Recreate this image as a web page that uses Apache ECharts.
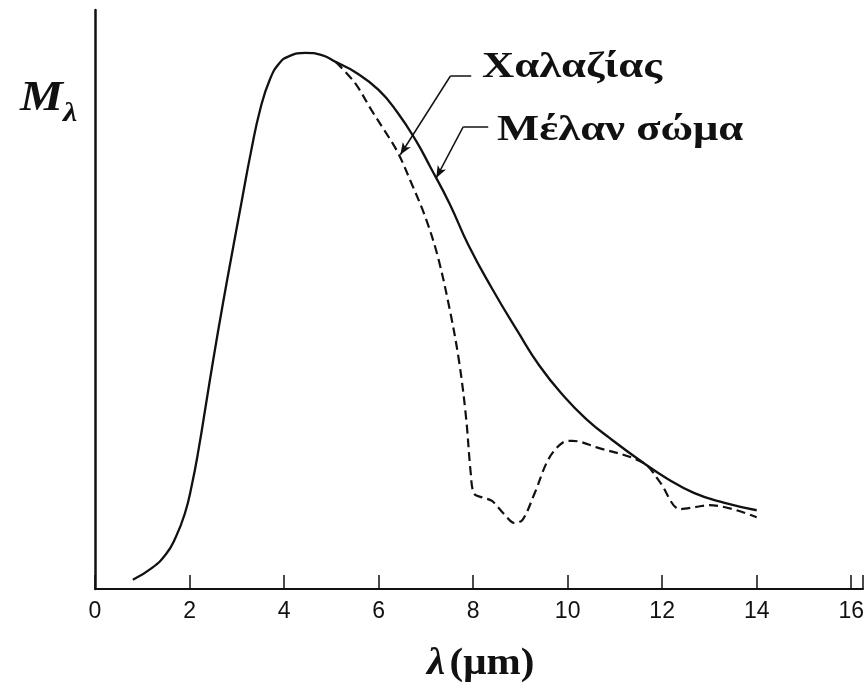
<!DOCTYPE html>
<html>
<head>
<meta charset="utf-8">
<script src="https://cdn.jsdelivr.net/npm/echarts@6/dist/echarts.min.js"></script>
<style>
  html, body { margin: 0; padding: 0; background: #fff; }
  #main { width: 867px; height: 687px; }
</style>
</head>
<body>
<div id="main"></div>
<script>
// wavelength (um) / relative radiant exitance
var blackLambda = [0.8, 1.2, 1.5, 1.7, 1.9, 2.05, 2.2, 2.35, 2.5, 2.7, 2.9, 3.1, 3.3, 3.5, 3.7, 3.9, 4.1, 4.45, 4.8, 5.1, 5.5, 6.0, 6.4, 6.8, 7.1, 7.5, 7.9, 8.4, 8.95, 9.4, 9.93, 10.4, 10.9, 11.6, 12.1, 12.67, 13.3, 14.0];
var blackValue  = [1.6, 3.6, 6.0, 8.8, 13.0, 18.0, 24.5, 32.0, 39.5, 49.0, 58.0, 66.8, 75.5, 83.0, 88.0, 90.8, 92.0, 92.6, 92.2, 91.0, 89.3, 86.2, 82.3, 77.3, 72.8, 66.6, 59.4, 51.9, 44.4, 38.6, 33.2, 29.3, 26.0, 21.8, 19.1, 16.6, 14.9, 13.6];

var quartzLambda = [5.1, 5.5, 5.85, 6.1, 6.4, 6.7, 7.0, 7.25, 7.5, 7.7, 7.85, 7.95, 8.02, 8.2, 8.4, 8.65, 8.88, 9.05, 9.3, 9.6, 9.9, 10.1, 10.6, 11.6, 11.95, 12.38, 12.74, 13.0, 14.0];
var quartzValue  = [91.0, 87.4, 82.7, 79.5, 75.5, 70.0, 64.0, 57.5, 48.5, 39.5, 29.7, 20.0, 16.5, 15.8, 15.2, 13.0, 11.4, 12.0, 16.5, 22.5, 25.3, 25.6, 24.5, 21.8, 18.5, 13.8, 14.2, 14.5, 12.4];

var xTicks = [0, 2, 4, 6, 8, 10, 12, 14, 16];

function pairs(xs, ys) {
  return xs.map(function (x, i) { return [x, ys[i]]; });
}

var chart = echarts.init(document.getElementById('main'));

var serif = '"Liberation Serif", "DejaVu Serif", serif';

chart.setOption({
  animation: false,
  grid: { left: 95, right: 0, top: 10, bottom: 98 },
  xAxis: {
    type: 'value',
    min: 0,
    max: 16.25,
    interval: 2,
    axisLine: { lineStyle: { color: '#111', width: 2 } },
    axisTick: { inside: true, length: 14, lineStyle: { color: '#111', width: 1.5 } },
    axisLabel: {
      color: '#111',
      fontSize: 23,
      fontFamily: '"Liberation Sans", Arial, sans-serif',
      margin: 11,
      formatter: function (v) { return xTicks.indexOf(v) >= 0 ? String(v) : ''; }
    },
    splitLine: { show: false }
  },
  yAxis: {
    type: 'value',
    min: 0,
    max: 100,
    axisLine: { show: true, lineStyle: { color: '#111', width: 2.5 } },
    axisTick: { show: false },
    axisLabel: { show: false },
    splitLine: { show: false }
  },
  series: [
    {
      name: 'Μέλαν σώμα',
      type: 'line',
      data: pairs(blackLambda, blackValue),
      smooth: 0.5,
      symbol: 'none',
      lineStyle: { color: '#111', width: 2.3 },
      markLine: {
        silent: true,
        symbol: ['none', 'none'],
        label: { show: false },
        lineStyle: { color: '#111', width: 1.5, type: 'solid' },
        data: [
          [{ coord: [8.32, 79.8] }, { coord: [7.79, 79.8] }],
          [{ coord: [7.79, 79.8] }, { coord: [7.22, 71.0], symbol: 'arrow', symbolSize: [7, 12] }]
        ]
      }
    },
    {
      name: 'Χαλαζίας',
      type: 'line',
      data: pairs(quartzLambda, quartzValue),
      smooth: 0.35,
      symbol: 'none',
      lineStyle: { color: '#111', width: 2.2, type: [9, 5] },
      markLine: {
        silent: true,
        symbol: ['none', 'none'],
        label: { show: false },
        lineStyle: { color: '#111', width: 1.5, type: 'solid' },
        data: [
          [{ coord: [7.96, 88.6] }, { coord: [7.52, 88.6] }],
          [{ coord: [7.52, 88.6] }, { coord: [6.46, 75.0], symbol: 'arrow', symbolSize: [7, 12] }]
        ]
      }
    }
  ],
  graphic: [
    {
      type: 'text', x: 482, y: 50, scaleX: 1.24,
      style: { text: 'Χαλαζίας', font: 'bold 36px ' + serif, fill: '#111' }
    },
    {
      type: 'text', x: 497, y: 113, scaleX: 1.24,
      style: { text: 'Μέλαν σώμα', font: 'bold 36px ' + serif, fill: '#111' }
    },
    {
      type: 'text', x: 20, y: 70, scaleX: 1.15,
      style: {
        text: '{m|M}{s|λ}',
        rich: {
          m: { font: 'italic bold 42px ' + serif, fill: '#111' },
          s: { font: 'italic bold 28px ' + serif, fill: '#111', padding: [30, 0, 0, 0] }
        }
      }
    },
    {
      type: 'text', x: 427, y: 645, scaleX: 1.08,
      style: {
        text: '{l|λ}{u|(μm)}',
        rich: {
          l: { font: 'italic bold 38px ' + serif, fill: '#111', padding: [0, 4, 0, 0] },
          u: { font: 'bold 38px ' + serif, fill: '#111' }
        }
      }
    }
  ]
});
</script>
</body>
</html>
